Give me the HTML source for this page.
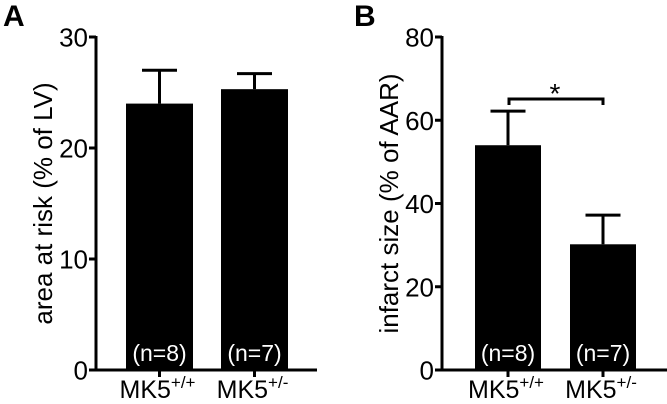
<!DOCTYPE html>
<html><head><meta charset="utf-8"><style>
html,body{margin:0;padding:0;background:#fff}
svg{display:block;font-family:"Liberation Sans",Arial,sans-serif}
</style></head><body>
<svg id="c" width="667" height="404" viewBox="0 0 667 404"></svg>
<script>
const categories = ["MK5", "MK5"];
const sups = ["+/+", "+/-"];
const nLabels = ["(n=8)", "(n=7)"];
const aValues = [24.0, 25.3];
const aErrors = [3.0, 1.4];
const aTicks = [0, 10, 20, 30];
const bValues = [54.0, 30.2];
const bErrors = [8.2, 7.0];
const bTicks = [0, 20, 40, 60, 80];
const NS = "http://www.w3.org/2000/svg";
const svg = document.getElementById('c');
function mk(tag, attrs, parent, text){
  const e = document.createElementNS(NS, tag);
  for (const k in attrs) e.setAttribute(k, attrs[k]);
  if (text !== undefined) e.textContent = text;
  (parent||svg).appendChild(e);
  return e;
}
function panel(cfg){
  const g = mk('g', {});
  
  
  const y = v => cfg.y0 - (v / cfg.max) * (cfg.y0 - cfg.yTop);
  const lbl = mk('text', {x: cfg.letterX, y: 26, 'font-size': 30, 'font-weight': 'bold'}, g, cfg.letter);
  
  
  cfg.values.forEach((v, i) => {
    const x0 = cfg.barX[i], w = cfg.barW, cx = x0 + w/2;
    const top = y(v), et = y(v + cfg.errors[i]);
    const eb = mk('line', {x1: cx, x2: cx, y1: top, y2: et, stroke: '#000', 'stroke-width': 3}, g);
    
    
    const cap = mk('line', {x1: cx - 17.5, x2: cx + 17.5, y1: et, y2: et, stroke: '#000', 'stroke-width': 3}, g);
    
    
    const r = mk('rect', {x: x0, y: top, width: w, height: cfg.y0 - top, fill: '#000'}, g);
    
    
    const nt = mk('text', {x: cx, y: cfg.y0 - 9, fill: '#fff', 'font-size': 23, 'text-anchor': 'middle'}, g, nLabels[i]);
    
    
    const tk = mk('line', {x1: cx, x2: cx, y1: cfg.y0, y2: cfg.y0 + 7, stroke: '#000', 'stroke-width': 3}, g);
    
    
    const xl = mk('text', {x: cx - 2, y: 398, 'font-size': 25, 'text-anchor': 'middle'}, g);
    
    
    const t1 = document.createElementNS(NS, 'tspan'); t1.textContent = categories[i]; xl.appendChild(t1);
    const t2 = document.createElementNS(NS, 'tspan'); t2.setAttribute('font-size', 17); t2.setAttribute('dy', -10); t2.textContent = sups[i]; xl.appendChild(t2);
  });
  const ya = mk('line', {x1: cfg.axisX, x2: cfg.axisX, y1: cfg.yTop - 1, y2: cfg.y0 + 1.5, stroke: '#000', 'stroke-width': 3}, g);
  
  
  const xa = mk('line', {x1: cfg.axisX - 6, x2: cfg.xEnd, y1: cfg.y0, y2: cfg.y0, stroke: '#000', 'stroke-width': 3}, g);
  
  
  cfg.ticks.forEach(t => {
    const ty = y(t);
    const tl = mk('line', {x1: cfg.axisX - 7, x2: cfg.axisX, y1: ty, y2: ty, stroke: '#000', 'stroke-width': 3}, g);
    
    
    const tt = mk('text', {x: cfg.axisX - 8, y: ty + 9.5, 'font-size': 26, 'text-anchor': 'end'}, g, String(t));
    
    
  });
  const yt = mk('text', {x: 0, y: 0, 'font-size': 26, 'text-anchor': 'middle', transform: `translate(${cfg.titleX},${(cfg.yTop + cfg.y0)/2}) rotate(-90)`}, g, cfg.title);
  
  
  return {g, y};
}
panel({name:'panel-a', letter:'A', letterX:3, values:aValues, errors:aErrors, ticks:aTicks, max:30, y0:370, yTop:37, axisX:96, xEnd:317, barX:[126,221], barW:67, title:'area at risk (% of LV)', titleX:52});
const pb = panel({name:'panel-b', letter:'B', letterX:354, values:bValues, errors:bErrors, ticks:bTicks, max:80, y0:370, yTop:37, axisX:442, xEnd:667, barX:[475,570], barW:66, title:'infarct size (% of AAR)', titleX:398});
const br = mk('path', {d:'M509,105 V99 H603 V105', fill:'none', stroke:'#000', 'stroke-width':3}, pb.g);


const st = mk('text', {x:555, y:103, 'font-size':28, 'text-anchor':'middle'}, pb.g, '*');


</script>
</body></html>
